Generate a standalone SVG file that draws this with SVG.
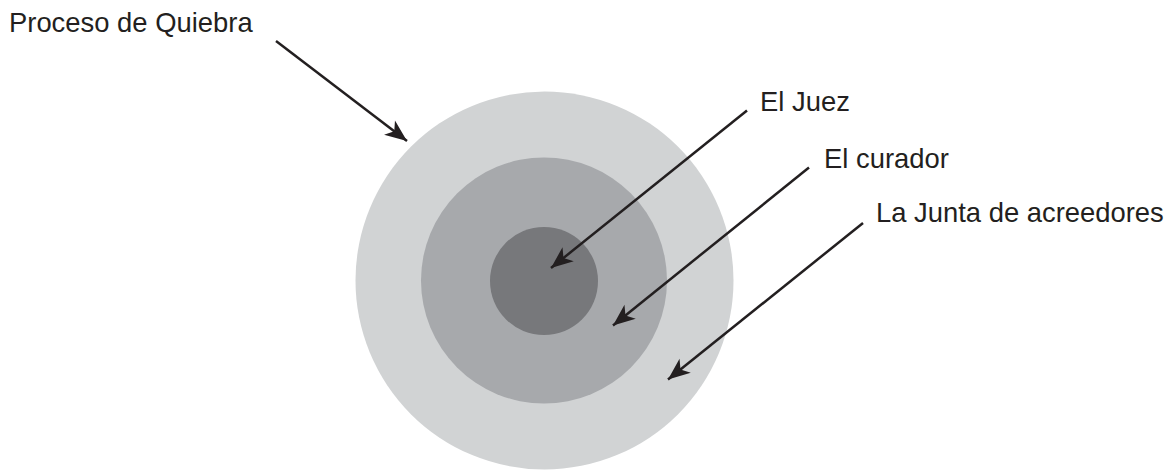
<svg xmlns="http://www.w3.org/2000/svg" width="1170" height="470" viewBox="0 0 1170 470">
  <style>
    .lbl { font-family: "Liberation Sans", Arial, sans-serif; font-size: 27.4px; fill: #231f20; }
    .conn { stroke: #231f20; stroke-width: 2.5; fill: none; marker-end: url(#ah); }
  </style>
  <defs>
    <marker id="ah" markerUnits="userSpaceOnUse" markerWidth="26" markerHeight="22" viewBox="-23 -11 25 22" refX="0" refY="0" orient="auto">
      <path d="M0,0 L-22,-9 L-16,0 L-22,9 Z" fill="#231f20"/>
    </marker>
  </defs>
  <rect width="1170" height="470" fill="#ffffff"/>
  <g id="outer">
    <circle cx="544.5" cy="280.5" r="189" fill="#d1d3d4"/>
  </g>
  <g id="middle">
    <circle cx="544" cy="280.5" r="123" fill="#a7a9ac"/>
  </g>
  <g id="inner">
    <circle cx="544" cy="281" r="54" fill="#77787b"/>
  </g>
  <g id="label-proceso">
    <text class="lbl" x="9" y="32">Proceso de Quiebra</text>
  </g>
  <g id="label-juez">
    <text class="lbl" x="760" y="111">El Juez</text>
  </g>
  <g id="label-curador">
    <text class="lbl" x="824" y="168">El curador</text>
  </g>
  <g id="label-junta">
    <text class="lbl" x="876" y="222">La Junta de acreedores</text>
  </g>
  <g id="connectors">
    <line class="conn" x1="276" y1="41" x2="407" y2="141"/>
    <line class="conn" x1="747" y1="110.5" x2="551" y2="268"/>
    <line class="conn" x1="809" y1="167.5" x2="613" y2="325.5"/>
    <line class="conn" x1="863" y1="223" x2="668" y2="379.5"/>
  </g>
</svg>
